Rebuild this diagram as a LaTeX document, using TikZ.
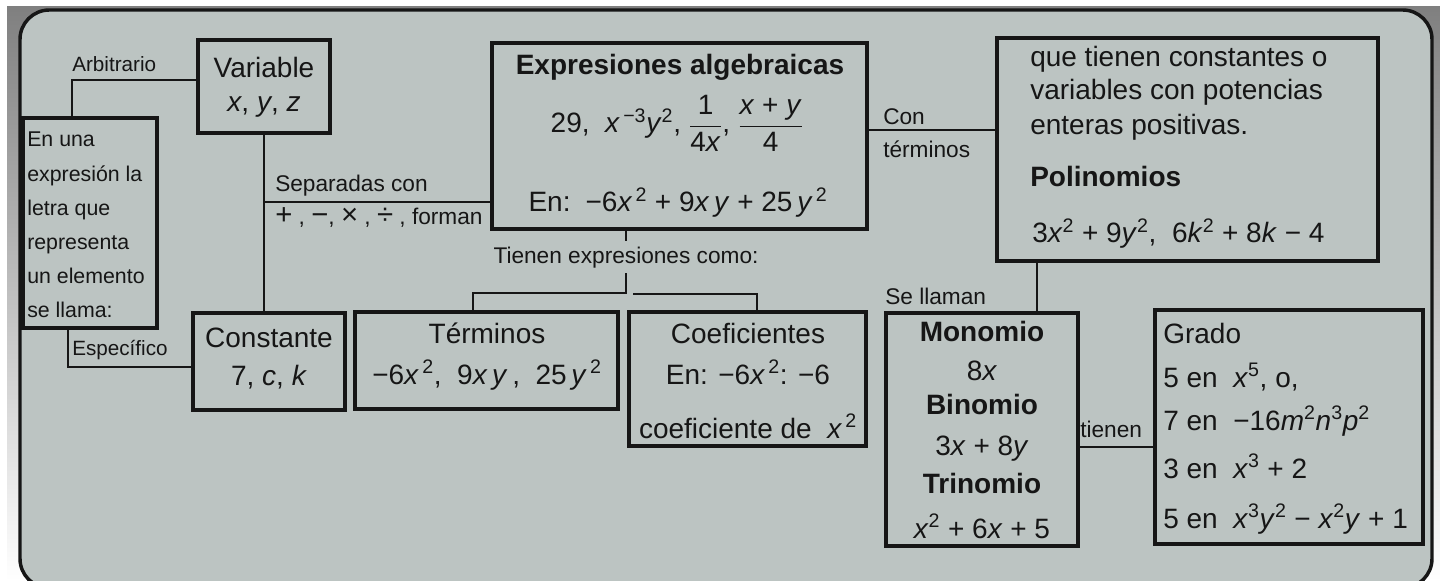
\documentclass[tikz,border=0pt]{standalone}
\usepackage{fontspec}
\setmainfont{Liberation Sans}
\usetikzlibrary{fit}
\definecolor{bg}{HTML}{BCC4C2}
\definecolor{shade}{HTML}{8A9693}
\definecolor{ink}{HTML}{161616}
\newcommand\vv[1]{\textit{#1}}
\newcommand\pw[1]{\textsuperscript{#1}}
\newcommand\fr[2]{$\displaystyle\frac{\hbox{#1}}{\hbox{#2}}$}
\newcommand\opx[1]{{\fontsize{22}{20}\selectfont #1}}
\begin{document}
\begin{tikzpicture}[x=0.75pt,y=-0.75pt,
  box/.style={draw=ink, line width=2.5pt, inner sep=0pt},
  wire/.style={draw=ink, line width=2.2pt},
  txt/.style={inner sep=0pt, text=ink, font=\fontsize{21}{25}\selectfont},
  btxt/.style={inner sep=0pt, text=ink, font=\fontsize{21}{25}\selectfont\bfseries},
  lbl/.style={inner sep=0pt, text=ink, font=\fontsize{17}{20}\selectfont},
  slbl/.style={inner sep=0pt, text=ink, font=\fontsize{15.5}{18}\selectfont},
  side/.style={inner sep=0pt, text=ink, font=\fontsize{16}{19}\selectfont},
]
\useasboundingbox (0,0) rectangle (1440,581);
\fill[white] (0,0) rectangle (1440,581);
\fill[shade] (7,7) rectangle (1440,581);
\draw[draw=ink, line width=2.6pt, fill=bg, rounded corners=22] (20,10) rectangle (1432,588);

% Variable
\node[box, fit={(198,40) (330,133)}] (var) {};
\node[txt, anchor=base] (varT) at (264,78) {Variable};
\node[txt, anchor=base] (varS) at (264,112) {\vv{x}, \vv{y}, \vv{z}};

% definition box
\node[box, fit={(23,118) (157,328)}] (def) {};
\foreach \t [count=\i] in {En una, expresión la, letra que, representa, un elemento, se llama:}
  \node[side, anchor=base west] (def\i) at (27,{147+34.2*(\i-1)}) {\t};

% Constante
\node[box, fit={(193,313) (345,410)}] (con) {};
\node[txt, anchor=base] (conT) at (269,348) {Constante};
\node[txt, anchor=base] (conS) at (269,385) {7, \vv{c}, \vv{k}};

% Expresiones algebraicas
\node[box, fit={(492,43) (867,229)}] (expr) {};
\node[btxt, anchor=base] (exprT) at (680,75) {Expresiones algebraicas};
\node[txt, anchor=base] (exprA) at (677,133) {29, \ \vv{x}\pw{\,−3}\vv{y}\pw{2}, \fr{1}{4\vv{x}}, \fr{\vv{x} + \vv{y}}{4}};
\node[txt, anchor=base] (exprB) at (678,212) {En: \,−6\vv{x}\pw{\,2} + 9\vv{x}\,\vv{y} + 25\,\vv{y}\pw{\,2}};

% Polinomios
\node[box, fit={(997,38) (1378,261)}] (poli) {};
\node[txt, anchor=base west] (poli1) at (1030,67) {que tienen constantes o};
\node[txt, anchor=base west] (poli2) at (1030,100) {variables con potencias};
\node[txt, anchor=base west] (poli3) at (1030,135) {enteras positivas.};
\node[btxt, anchor=base west] (poliT) at (1030,187) {Polinomios};
\node[txt, anchor=base west] (poliS) at (1032,243) {3\vv{x}\pw{2} + 9\vv{y}\pw{2}, \ 6\vv{k}\pw{2} + 8\vv{k} − 4};

% Terminos
\node[box, fit={(355,312) (618,409)}] (term) {};
\node[txt, anchor=base] (termT) at (487,344) {Términos};
\node[txt, anchor=base] (termS) at (487,384) {−6\vv{x}\pw{\,2}, \ 9\vv{x}\,\vv{y}\,, \ 25\,\vv{y}\pw{\,2}};

% Coeficientes
\node[box, fit={(629,312) (866,446)}] (cf) {};
\node[txt, anchor=base] (cfT) at (748,344) {Coeficientes};
\node[txt, anchor=base] (cfA) at (748,384) {En: −6\vv{x}\pw{\,2}: −6};
\node[txt, anchor=base] (cfB) at (748,438) {coeficiente de \ \vv{x}\pw{\,2}};

% Monomio etc.
\node[box, fit={(886,313) (1078,546)}] (mono) {};
\node[btxt, anchor=base] (mono1) at (982,341) {Monomio};
\node[txt, anchor=base] (mono2) at (982,380) {8\vv{x}};
\node[btxt, anchor=base] (mono3) at (982,414) {Binomio};
\node[txt, anchor=base] (mono4) at (982,455) {3\vv{x} + 8\vv{y}};
\node[btxt, anchor=base] (mono5) at (982,493) {Trinomio};
\node[txt, anchor=base] (mono6) at (982,538) {\vv{x}\pw{2} + 6\vv{x} + 5};

% Grado
\node[box, fit={(1155,310) (1423,544)}] (grado) {};
\node[txt, anchor=base west] (gr1) at (1163,344) {Grado};
\node[txt, anchor=base west] (gr2) at (1163,387) {5 en \ \vv{x}\pw{5}, o,};
\node[txt, anchor=base west] (gr3) at (1163,430) {7 en \ −16\vv{m}\pw{2}\vv{n}\pw{3}\vv{p}\pw{2}};
\node[txt, anchor=base west] (gr4) at (1163,478) {3 en \ \vv{x}\pw{3} + 2};
\node[txt, anchor=base west] (gr5) at (1163,528) {5 en \ \vv{x}\pw{3}\vv{y}\pw{2} − \vv{x}\pw{2}\vv{y} + 1};

% labels
\node[slbl, anchor=base west] (lArb) at (72,72) {Arbitrario};
\node[slbl, anchor=base west] (lEsp) at (72,355) {Específico};
\node[lbl, anchor=base west] (lSep) at (275,192) {Separadas con};
\node[lbl, anchor=base west] (lOps) at (275,225) {\opx{+} , \opx{−}, \opx{×} , \opx{÷} , forman};
\node[lbl, anchor=base west] (lCon) at (883,125) {Con};
\node[lbl, anchor=base west] (lTer) at (883,158) {términos};
\node[lbl, anchor=base] (lTien) at (626,263) {Tienen expresiones como:};
\node[lbl, anchor=base west] (lSe) at (885,305) {Se llaman};
\node[lbl, anchor=base west] (lTi) at (1080,437) {tienen};

% connectors
\coordinate (arbK) at (72,80);
\draw[wire] (var.west |- arbK) -- (arbK) -- (arbK |- def.north);
\coordinate (espK) at (68,367);
\draw[wire] (espK |- def.south) -- (espK) -- (espK -| con.west);
\draw[wire] (var.south) -- (var.south |- con.north);
\coordinate (sepK) at (264,202);
\draw[wire] (sepK) -- (sepK -| expr.west);
\coordinate (conK) at (900,130);
\draw[wire] (expr.east |- conK) -- (poli.west |- conK);
\draw[wire] (lTien.north |- expr.south) -- ([yshift=4pt]lTien.north);
\coordinate (brL) at (626,293);
\coordinate (tL) at (473,293);
\draw[wire] ([yshift=-4pt]lTien.south) -- (brL) -- (tL) -- (tL |- term.north);
\coordinate (brR) at (633,294);
\coordinate (cR) at (757,294);
\draw[wire] (brR) -- (cR) -- (cR |- cf.north);
\coordinate (slK) at (1037,280);
\draw[wire] (slK |- poli.south) -- (slK |- mono.north);
\coordinate (tiK) at (1100,447);
\draw[wire] (mono.east |- tiK) -- (grado.west |- tiK);
\end{tikzpicture}
\end{document}
